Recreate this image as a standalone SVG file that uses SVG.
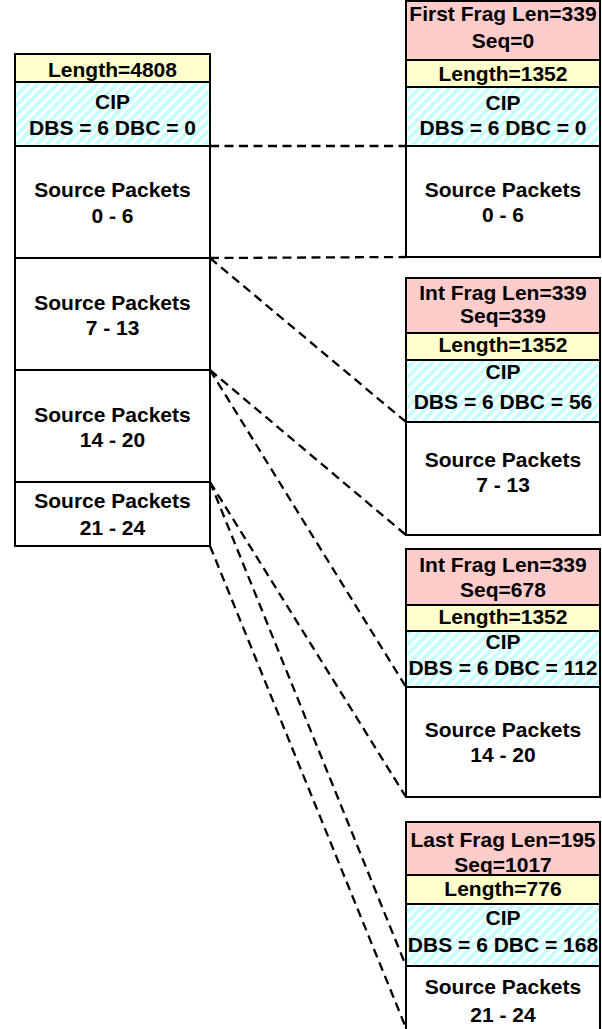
<svg xmlns="http://www.w3.org/2000/svg" width="602" height="1029" viewBox="0 0 602 1029">
<defs>
<pattern id="hatch" width="7" height="7" patternUnits="userSpaceOnUse" patternTransform="rotate(45)">
<rect width="7" height="7" fill="#ffffff"/>
<rect width="4" height="7" fill="#c8ffff"/>
</pattern>
</defs>
<style>
.box{stroke:#000;stroke-width:2}
.len{fill:#ffffcc}
.frag{fill:#ffcccc}
.cip{fill:url(#hatch)}
.src{fill:#ffffff}
text{font-family:"Liberation Sans",Arial,sans-serif;font-weight:bold;font-size:21px;fill:#000;text-anchor:middle}
.conn line{stroke:#000;stroke-width:2.3;stroke-dasharray:9 5.5;fill:none}
</style>
<rect width="602" height="1029" fill="#ffffff"/>
<g id="connectors" class="conn">
<line x1="210" y1="146" x2="406" y2="146"/>
<line x1="210" y1="258" x2="406" y2="257"/>
<line x1="210" y1="258" x2="406" y2="422"/>
<line x1="210" y1="370" x2="406" y2="535"/>
<line x1="210" y1="370" x2="406" y2="687"/>
<line x1="210" y1="482" x2="406" y2="797"/>
<line x1="210" y1="482" x2="406" y2="966"/>
<line x1="210" y1="546" x2="406" y2="1028"/>
</g>
<g id="left-packet">
<rect class="box len" x="15" y="54" width="195" height="28"/>
<text x="112.5" y="77">Length=4808</text>
<rect class="box cip" x="15" y="82" width="195" height="64"/>
<text x="112.5" y="109">CIP</text>
<text x="112.5" y="135">DBS = 6 DBC = 0</text>
<rect class="box src" x="15" y="146" width="195" height="112"/>
<text x="112.5" y="197">Source Packets</text>
<text x="112.5" y="223">0 - 6</text>
</g>
<g id="left-src-7-13">
<rect class="box src" x="15" y="258" width="195" height="112"/>
<text x="112.5" y="310">Source Packets</text>
<text x="112.5" y="335">7 - 13</text>
</g>
<g id="left-src-14-20">
<rect class="box src" x="15" y="370" width="195" height="112"/>
<text x="112.5" y="422">Source Packets</text>
<text x="112.5" y="447">14 - 20</text>
</g>
<g id="left-src-21-24">
<rect class="box src" x="15" y="482" width="195" height="64"/>
<text x="112.5" y="508">Source Packets</text>
<text x="112.5" y="535">21 - 24</text>
</g>
<g id="frag-first">
<rect class="box frag" x="406" y="1" width="194" height="59"/>
<text x="503" y="21">First Frag Len=339</text>
<text x="503" y="48">Seq=0</text>
<rect class="box len" x="406" y="60" width="194" height="27"/>
<text x="503" y="80.5">Length=1352</text>
<rect class="box cip" x="406" y="87" width="194" height="59"/>
<text x="503" y="110">CIP</text>
<text x="503" y="135">DBS = 6 DBC = 0</text>
<rect class="box src" x="406" y="146" width="194" height="111"/>
<text x="503" y="197">Source Packets</text>
<text x="503" y="222">0 - 6</text>
</g>
<g id="frag-int-1">
<rect class="box frag" x="406" y="278" width="194" height="55"/>
<text x="503" y="299.5">Int Frag Len=339</text>
<text x="503" y="322.5">Seq=339</text>
<rect class="box len" x="406" y="333" width="194" height="27"/>
<text x="503" y="351.5">Length=1352</text>
<rect class="box cip" x="406" y="360" width="194" height="62"/>
<text x="503" y="379">CIP</text>
<text x="503" y="408.5">DBS = 6 DBC = 56</text>
<rect class="box src" x="406" y="422" width="194" height="113"/>
<text x="503" y="466.5">Source Packets</text>
<text x="503" y="491.5">7 - 13</text>
</g>
<g id="frag-int-2">
<rect class="box frag" x="406" y="549" width="194" height="56"/>
<text x="503" y="571.5">Int Frag Len=339</text>
<text x="503" y="596.5">Seq=678</text>
<rect class="box len" x="406" y="605" width="194" height="26"/>
<text x="503" y="623.5">Length=1352</text>
<rect class="box cip" x="406" y="631" width="194" height="56"/>
<text x="503" y="648.5">CIP</text>
<text x="503" y="675">DBS = 6 DBC = 112</text>
<rect class="box src" x="406" y="687" width="194" height="110"/>
<text x="503" y="736.5">Source Packets</text>
<text x="503" y="761.5">14 - 20</text>
</g>
<g id="frag-last">
<rect class="box frag" x="406" y="822" width="194" height="53"/>
<text x="503" y="846.5">Last Frag Len=195</text>
<text x="503" y="871.5">Seq=1017</text>
<rect class="box len" x="406" y="875" width="194" height="29"/>
<text x="503" y="896">Length=776</text>
<rect class="box cip" x="406" y="904" width="194" height="62"/>
<text x="503" y="925">CIP</text>
<text x="503" y="951.5">DBS = 6 DBC = 168</text>
<rect class="box src" x="406" y="966" width="194" height="74"/>
<text x="503" y="994">Source Packets</text>
<text x="503" y="1021.5">21 - 24</text>
</g>
</svg>
